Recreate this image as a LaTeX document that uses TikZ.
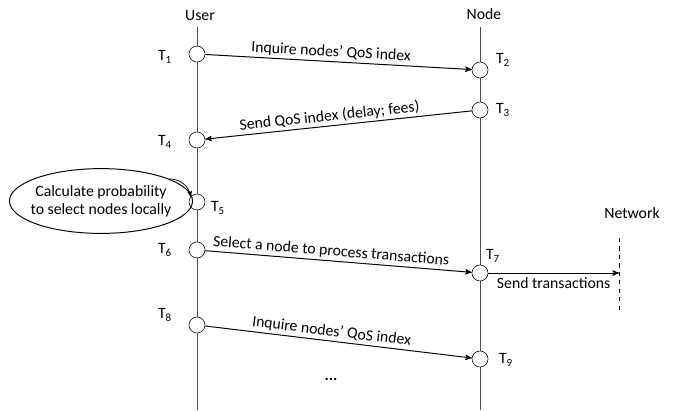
\documentclass[tikz,border=0pt]{standalone}
\usepackage{fontspec}
\setmainfont{Carlito}
\usepackage{xcolor}
\usetikzlibrary{arrows,shapes.geometric}

\newcommand{\tlab}[1]{T\textsubscript{#1}}

\begin{document}
\begin{tikzpicture}[x=0.025cm,y=-0.025cm,>=stealth',
  font=\fontsize{11.2}{13}\selectfont]
 \tikzset{
  event/.style={circle,draw,fill=white,minimum size=0.4cm,inner sep=0pt},
  life/.style={draw=black!70,line width=0.7pt},
  msg/.style={->,line width=0.7pt},
  lbl/.style={above,sloped,inner sep=1.5pt}
 }
 \useasboundingbox (0,0) rectangle (688,410);

 % lifelines
 \node (user) at (200,15) {User};
 \node (node) at (484,14) {Node};
 \coordinate (utop) at (197,27);
 \coordinate (ubot) at (197,410);
 \coordinate (ntop) at (480,27);
 \coordinate (nbot) at (480,410);
 \draw[life] (utop) -- (ubot);
 \draw[life] (ntop) -- (nbot);

 % network
 \node (net) at (632,213) {Network};
 \coordinate (wtop) at (619,238);
 \coordinate (wbot) at (619,310);
 \coordinate (whit) at (619,273);
 \draw[dashed,line width=0.7pt] (wtop) -- (wbot);

 % events
 \node[event] (t1) at (197,54) {};
 \node[event] (t2) at (480,70) {};
 \node[event] (t3) at (480,110) {};
 \node[event] (t4) at (197,140) {};
 \node[event] (t5) at (197,202) {};
 \node[event] (t6) at (197,250) {};
 \node[event] (t7) at (480,273) {};
 \node[event] (t8) at (197,325) {};
 \node[event] (t9) at (480,359) {};

 \node (l1) at (165,57) {\tlab{1}};
 \node (l2) at (503,60) {\tlab{2}};
 \node (l3) at (503,110) {\tlab{3}};
 \node (l4) at (165,142) {\tlab{4}};
 \node (l5) at (218,208) {\tlab{5}};
 \node (l6) at (165,250) {\tlab{6}};
 \node (l7) at (493,256) {\tlab{7}};
 \node (l8) at (165,315) {\tlab{8}};
 \node (l9) at (506,360) {\tlab{9}};

 \node[ellipse,draw,line width=0.7pt,align=center,inner xsep=-4pt,
  inner ysep=5pt] (calc) at (101,201)
  {Calculate probability\\to select nodes locally};

 \path[msg] (t1)
  edge node[lbl,pos=0.47] {Inquire nodes’ QoS index} (t2)
 (t3)
  edge node[lbl,pos=0.53] {Send QoS index (delay; fees)} (t4)
 (t6)
  edge node[lbl,pos=0.47] {Select a node to process transactions} (t7)
 (t7)
  edge node[below,inner sep=3pt] {Send transactions} (whit)
 (t8)
  edge node[lbl,pos=0.47] {Inquire nodes’ QoS index} (t9)
 (calc.18)
  edge[bend left=40,line width=0.5pt] (t5.140);

 \node (dots) at (331,379) {\textbf{...}};
\end{tikzpicture}
\end{document}
